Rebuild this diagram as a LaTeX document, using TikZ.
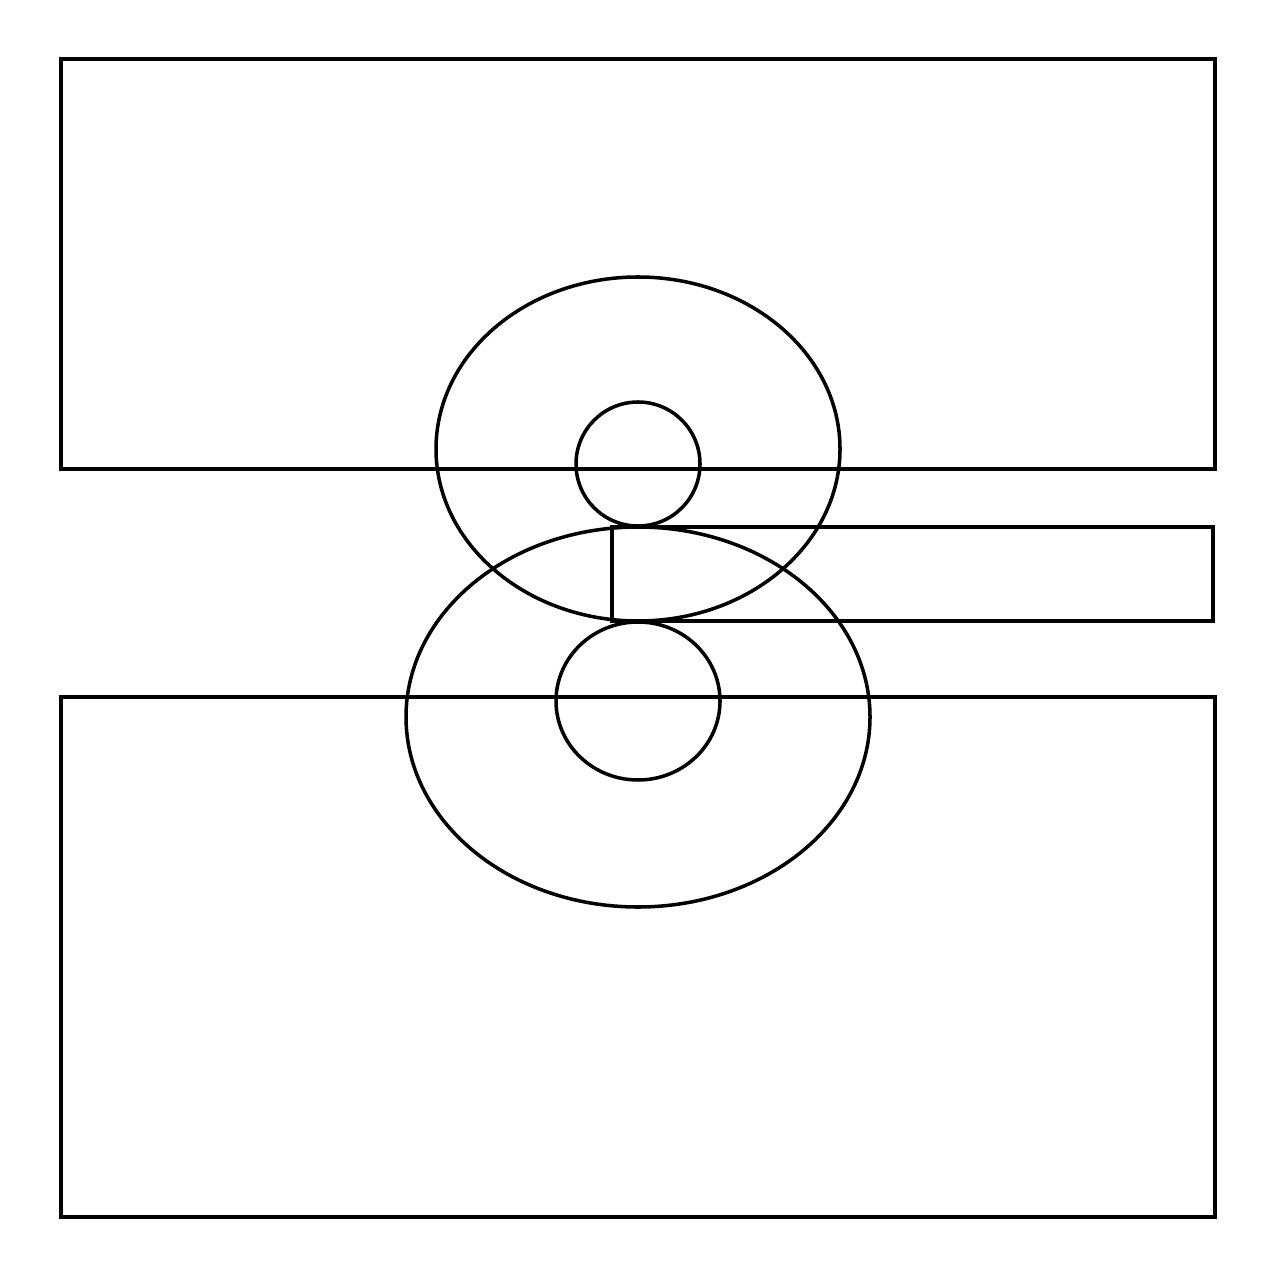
\documentclass[tikz,border=0pt]{standalone}
\begin{document}
\begin{tikzpicture}
      [x=0.01cm,y=-0.01cm,every path/.style={line width=1pt}]
    \useasboundingbox (0,0) rectangle (1280,1280);

    % outer plates
    \draw (61,59) rectangle (1215,469);
    \draw (61,697) rectangle (1215,1217);

    % middle bar
    \draw (612,527) rectangle (1213,621);

    % rings
    \draw (638,449) ellipse [x radius=202, y radius=172];
    \draw (638,717) ellipse [x radius=232, y radius=190];

    \draw (638,464) circle [radius=62];
    \draw (638,701) ellipse [x radius=82, y radius=79];
\end{tikzpicture}
\end{document}
